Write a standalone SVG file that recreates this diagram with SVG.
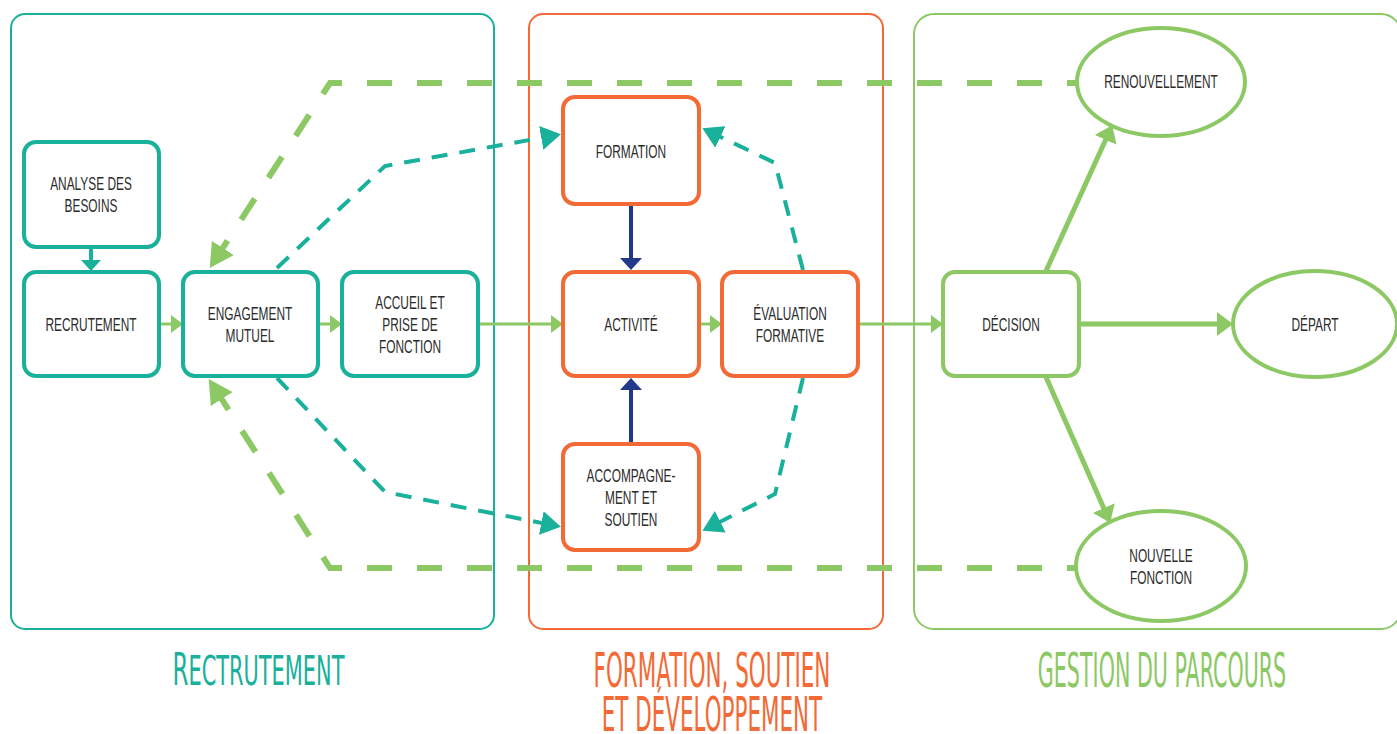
<svg xmlns="http://www.w3.org/2000/svg" width="1397" height="734" viewBox="0 0 1397 734">
<style>
.panel{fill:none;stroke-width:2}
.nt{fill:#fff;stroke:#19b09c;stroke-width:4}
.no{fill:#fff;stroke:#f26a36;stroke-width:4}
.ng{fill:#fff;stroke:#8cc864;stroke-width:4}
.lbl{font-family:"Liberation Sans",Arial,sans-serif;font-size:18px;fill:#2b2b2b;text-anchor:middle;transform-box:fill-box;transform-origin:center;transform:scaleX(0.66)}
.ttl{font-family:"DejaVu Sans",sans-serif;font-size:48px;text-anchor:middle}
.cg{fill:none;stroke:#8cc864;stroke-width:3}
.cgb{fill:none;stroke:#8cc864;stroke-width:5}
.cgd{fill:none;stroke:#8cc864;stroke-width:6;stroke-dasharray:25 25;stroke-dashoffset:14}
.ctd{fill:none;stroke:#19b09c;stroke-width:4;stroke-dasharray:16 12}
.ct{fill:none;stroke:#19b09c;stroke-width:4}
.cn{fill:none;stroke:#24388a;stroke-width:4}
</style>
<defs>
<marker id="aG" markerUnits="userSpaceOnUse" markerWidth="12" markerHeight="18" refX="10" refY="9" orient="auto"><path d="M0,0 L12,9 L0,18 z" fill="#8cc864"/></marker>
<marker id="aGB" markerUnits="userSpaceOnUse" markerWidth="16" markerHeight="24" refX="13" refY="12" orient="auto"><path d="M0,0 L16,12 L0,24 z" fill="#8cc864"/></marker>
<marker id="aT" markerUnits="userSpaceOnUse" markerWidth="11" markerHeight="20" refX="9" refY="10" orient="auto"><path d="M0,0 L11,10 L0,20 z" fill="#19b09c"/></marker>
<marker id="aN" markerUnits="userSpaceOnUse" markerWidth="12" markerHeight="22" refX="10" refY="11" orient="auto"><path d="M0,0 L12,11 L0,22 z" fill="#24388a"/></marker>
<marker id="aTD" markerUnits="userSpaceOnUse" markerWidth="20" markerHeight="24" refX="16" refY="12" orient="auto"><path d="M0,0 L20,12 L0,24 z" fill="#19b09c"/></marker>
<marker id="aGD" markerUnits="userSpaceOnUse" markerWidth="24" markerHeight="26" refX="18" refY="13" orient="auto"><path d="M0,0 L24,13 L0,26 z" fill="#8cc864"/></marker>
</defs>

<g id="panels">
<rect class="panel" x="11" y="14" width="483" height="615" rx="14" stroke="#19b09c"/>
<rect class="panel" x="529" y="14" width="354" height="615" rx="14" stroke="#f26a36"/>
<rect class="panel" x="914" y="14" width="487" height="615" rx="20" stroke="#8cc864"/>
</g>

<g id="connectors">
<path class="cgd" d="M1078 83 L330 83 L213 263" marker-end="url(#aGD)"/>
<path class="cgd" d="M1078 568 L330 568 L212 384" marker-end="url(#aGD)"/>
<path class="ctd" d="M277 268 L385 166 L557 135" marker-end="url(#aTD)"/>
<path class="ctd" d="M277 378 L385 492 L557 526" marker-end="url(#aTD)"/>
<path class="ctd" d="M803 270 L775 163 L706 130" marker-end="url(#aTD)"/>
<path class="ctd" d="M803 378 L775 494 L706 529" marker-end="url(#aTD)"/>
<path class="ct" d="M91 247 L91 269" marker-end="url(#aT)"/>
<path class="cg" d="M159 324 L181 324" marker-end="url(#aG)"/>
<path class="cg" d="M318 324 L340 324" marker-end="url(#aG)"/>
<path class="cg" d="M478 324 L561 324" marker-end="url(#aG)"/>
<path class="cg" d="M699 324 L720 324" marker-end="url(#aG)"/>
<path class="cg" d="M858 324 L941 324" marker-end="url(#aG)"/>
<path class="cn" d="M631 204 L631 268" marker-end="url(#aN)"/>
<path class="cn" d="M631 444 L631 380" marker-end="url(#aN)"/>
<path class="cgb" d="M1079 324 L1230 324" marker-end="url(#aGB)"/>
<path class="cgb" d="M1046 271 L1111 128" marker-end="url(#aGB)"/>
<path class="cgb" d="M1046 377 L1109 520" marker-end="url(#aGB)"/>
</g>

<g id="n-analyse"><rect class="nt" x="24" y="142" width="135" height="105" rx="12"/><text class="lbl" x="91" y="190">ANALYSE DES</text><text class="lbl" x="91" y="212">BESOINS</text></g>
<g id="n-recrutement"><rect class="nt" x="24" y="272" width="135" height="104" rx="12"/><text class="lbl" x="91" y="331">RECRUTEMENT</text></g>
<g id="n-engagement"><rect class="nt" x="183" y="272" width="135" height="104" rx="12"/><text class="lbl" x="250" y="320">ENGAGEMENT</text><text class="lbl" x="250" y="342">MUTUEL</text></g>
<g id="n-accueil"><rect class="nt" x="342" y="272" width="136" height="104" rx="12"/><text class="lbl" x="410" y="309">ACCUEIL ET</text><text class="lbl" x="410" y="331">PRISE DE</text><text class="lbl" x="410" y="353">FONCTION</text></g>

<g id="n-formation"><rect class="no" x="563" y="97" width="136" height="107" rx="12"/><text class="lbl" x="631" y="158">FORMATION</text></g>
<g id="n-activite"><rect class="no" x="563" y="272" width="136" height="104" rx="12"/><text class="lbl" x="631" y="331">ACTIVITÉ</text></g>
<g id="n-evaluation"><rect class="no" x="722" y="272" width="136" height="104" rx="12"/><text class="lbl" x="790" y="320">ÉVALUATION</text><text class="lbl" x="790" y="342">FORMATIVE</text></g>
<g id="n-accompagnement"><rect class="no" x="563" y="444" width="136" height="106" rx="12"/><text class="lbl" x="631" y="482">ACCOMPAGNE-</text><text class="lbl" x="631" y="504">MENT ET</text><text class="lbl" x="631" y="526">SOUTIEN</text></g>

<g id="n-decision"><rect class="ng" x="943" y="272" width="136" height="104" rx="12"/><text class="lbl" x="1011" y="331">DÉCISION</text></g>
<g id="n-renouvellement"><ellipse class="ng" cx="1161" cy="82" rx="84" ry="54"/><text class="lbl" x="1161" y="88">RENOUVELLEMENT</text></g>
<g id="n-depart"><ellipse class="ng" cx="1315" cy="324" rx="82" ry="53"/><text class="lbl" x="1315" y="331">DÉPART</text></g>
<g id="n-nouvelle"><ellipse class="ng" cx="1161" cy="566" rx="85" ry="55"/><text class="lbl" x="1161" y="562">NOUVELLE</text><text class="lbl" x="1161" y="584">FONCTION</text></g>

<g id="titles">
<text class="ttl" transform="translate(258.5 0) scale(0.51 1)" x="0" y="685" fill="#19b09c" style="font-size:41px"><tspan style="font-size:45px">R</tspan>ECTRUTEMENT</text>
<text class="ttl" transform="translate(712 0) scale(0.447 1)" y="687" fill="#f26a36"><tspan x="0" y="687">FORMATION, SOUTIEN</tspan><tspan x="0" y="731">ET DÉVELOPPEMENT</tspan></text>
<text class="ttl" transform="translate(1162 0) scale(0.43 1)" x="0" y="687" fill="#8cc864">GESTION DU PARCOURS</text>
</g>
</svg>
